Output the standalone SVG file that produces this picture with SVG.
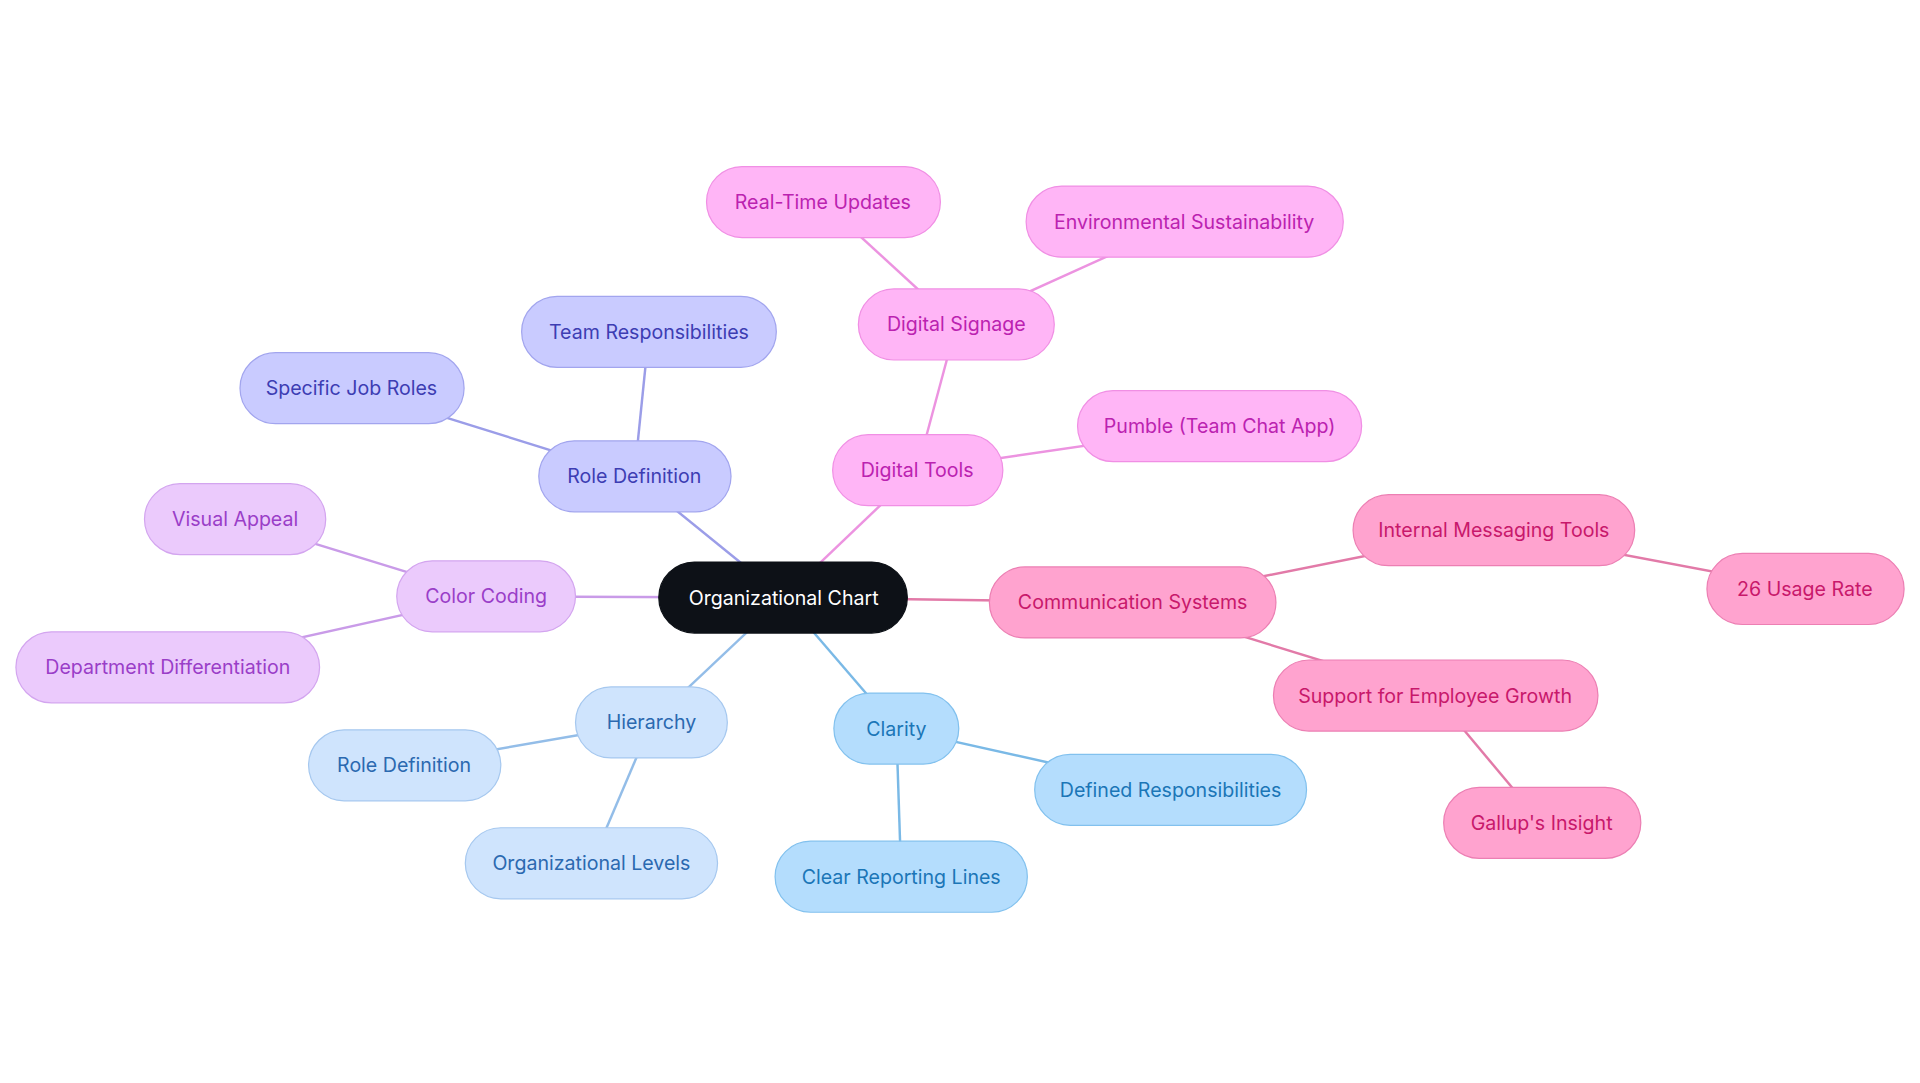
<svg xmlns="http://www.w3.org/2000/svg" width="1920" height="1083" viewBox="0 0 1920 1083">
<style>
text{font-family:Inter,"Liberation Sans",sans-serif;font-size:16px;text-anchor:middle;dominant-baseline:central}
rect{stroke-width:1}
line{stroke-width:2}
.pk rect{fill:#ffa3cf;stroke:#ec7fb3}.pk text{fill:#c8186b}
.mg rect{fill:#ffb5f6;stroke:#f08fe4}.mg text{fill:#bb22b0}
.vi rect{fill:#c9cbff;stroke:#a2a5ee}.vi text{fill:#3d3db3}
.pu rect{fill:#ebcafc;stroke:#d3a5ef}.pu text{fill:#9a3ec8}
.lb rect{fill:#cfe4fd;stroke:#a6c8ef}.lb text{fill:#2b69b0}
.sk rect{fill:#b4ddfd;stroke:#82c1ee}.sk text{fill:#1b76b7}
</style>
<rect width="1920" height="1083" fill="#fff"/>
<g transform="scale(1.22449)">
<g id="connectors">
<line x1="640" y1="488" x2="925" y2="492" stroke="#e27aa8"/>
<line x1="925" y1="492" x2="1220" y2="433" stroke="#e27aa8"/>
<line x1="1220" y1="433" x2="1474" y2="481" stroke="#e27aa8"/>
<line x1="925" y1="492" x2="1172" y2="568" stroke="#e27aa8"/>
<line x1="1172" y1="568" x2="1259" y2="672" stroke="#e27aa8"/>
<line x1="640" y1="488" x2="749" y2="384" stroke="#ec93e0"/>
<line x1="749" y1="384" x2="996" y2="348" stroke="#ec93e0"/>
<line x1="749" y1="384" x2="781" y2="265" stroke="#ec93e0"/>
<line x1="781" y1="265" x2="672" y2="165" stroke="#ec93e0"/>
<line x1="781" y1="265" x2="967" y2="181" stroke="#ec93e0"/>
<line x1="640" y1="488" x2="518" y2="389" stroke="#9b9de8"/>
<line x1="518" y1="389" x2="530" y2="271" stroke="#9b9de8"/>
<line x1="518" y1="389" x2="287" y2="317" stroke="#9b9de8"/>
<line x1="640" y1="488" x2="397" y2="487" stroke="#c99be8"/>
<line x1="397" y1="487" x2="192" y2="424" stroke="#c99be8"/>
<line x1="397" y1="487" x2="137" y2="545" stroke="#c99be8"/>
<line x1="640" y1="488" x2="532" y2="590" stroke="#93bde8"/>
<line x1="532" y1="590" x2="330" y2="625" stroke="#93bde8"/>
<line x1="532" y1="590" x2="483" y2="705" stroke="#93bde8"/>
<line x1="640" y1="488" x2="732" y2="595" stroke="#7ab9e6"/>
<line x1="732" y1="595" x2="956" y2="645" stroke="#7ab9e6"/>
<line x1="732" y1="595" x2="736" y2="716" stroke="#7ab9e6"/>
</g>
<g id="root"><rect x="538" y="459" width="203" height="58" rx="29" fill="#0d1117" stroke="#0d1117"/><text x="640" y="488" fill="#fff">Organizational Chart</text></g>
<g id="n-comm" class="pk"><rect x="808" y="463" width="234" height="58" rx="29"/><text x="925" y="492">Communication Systems</text></g>
<g id="n-imt" class="pk"><rect x="1105" y="404" width="230" height="58" rx="29"/><text x="1220" y="433">Internal Messaging Tools</text></g>
<g id="n-26" class="pk"><rect x="1394" y="452" width="161" height="58" rx="29"/><text x="1474" y="481">26 Usage Rate</text></g>
<g id="n-seg" class="pk"><rect x="1040" y="539" width="265" height="58" rx="29"/><text x="1172" y="568">Support for Employee Growth</text></g>
<g id="n-gal" class="pk"><rect x="1179" y="643" width="161" height="58" rx="29"/><text x="1259" y="672">Gallup's Insight</text></g>
<g id="n-dt" class="mg"><rect x="680" y="355" width="139" height="58" rx="29"/><text x="749" y="384">Digital Tools</text></g>
<g id="n-pum" class="mg"><rect x="880" y="319" width="232" height="58" rx="29"/><text x="996" y="348">Pumble (Team Chat App)</text></g>
<g id="n-ds" class="mg"><rect x="701" y="236" width="160" height="58" rx="29"/><text x="781" y="265">Digital Signage</text></g>
<g id="n-rtu" class="mg"><rect x="577" y="136" width="191" height="58" rx="29"/><text x="672" y="165">Real-Time Updates</text></g>
<g id="n-env" class="mg"><rect x="838" y="152" width="259" height="58" rx="29"/><text x="967" y="181">Environmental Sustainability</text></g>
<g id="n-rd" class="vi"><rect x="440" y="360" width="157" height="58" rx="29"/><text x="518" y="389">Role Definition</text></g>
<g id="n-tr" class="vi"><rect x="426" y="242" width="208" height="58" rx="29"/><text x="530" y="271">Team Responsibilities</text></g>
<g id="n-sjr" class="vi"><rect x="196" y="288" width="183" height="58" rx="29"/><text x="287" y="317">Specific Job Roles</text></g>
<g id="n-cc" class="pu"><rect x="324" y="458" width="146" height="58" rx="29"/><text x="397" y="487">Color Coding</text></g>
<g id="n-va" class="pu"><rect x="118" y="395" width="148" height="58" rx="29"/><text x="192" y="424">Visual Appeal</text></g>
<g id="n-dd" class="pu"><rect x="13" y="516" width="248" height="58" rx="29"/><text x="137" y="545">Department Differentiation</text></g>
<g id="n-hi" class="lb"><rect x="470" y="561" width="124" height="58" rx="29"/><text x="532" y="590">Hierarchy</text></g>
<g id="n-rd2" class="lb"><rect x="252" y="596" width="157" height="58" rx="29"/><text x="330" y="625">Role Definition</text></g>
<g id="n-ol" class="lb"><rect x="380" y="676" width="206" height="58" rx="29"/><text x="483" y="705">Organizational Levels</text></g>
<g id="n-cl" class="sk"><rect x="681" y="566" width="102" height="58" rx="29"/><text x="732" y="595">Clarity</text></g>
<g id="n-dr" class="sk"><rect x="845" y="616" width="222" height="58" rx="29"/><text x="956" y="645">Defined Responsibilities</text></g>
<g id="n-crl" class="sk"><rect x="633" y="687" width="206" height="58" rx="29"/><text x="736" y="716">Clear Reporting Lines</text></g>
</g>
</svg>
